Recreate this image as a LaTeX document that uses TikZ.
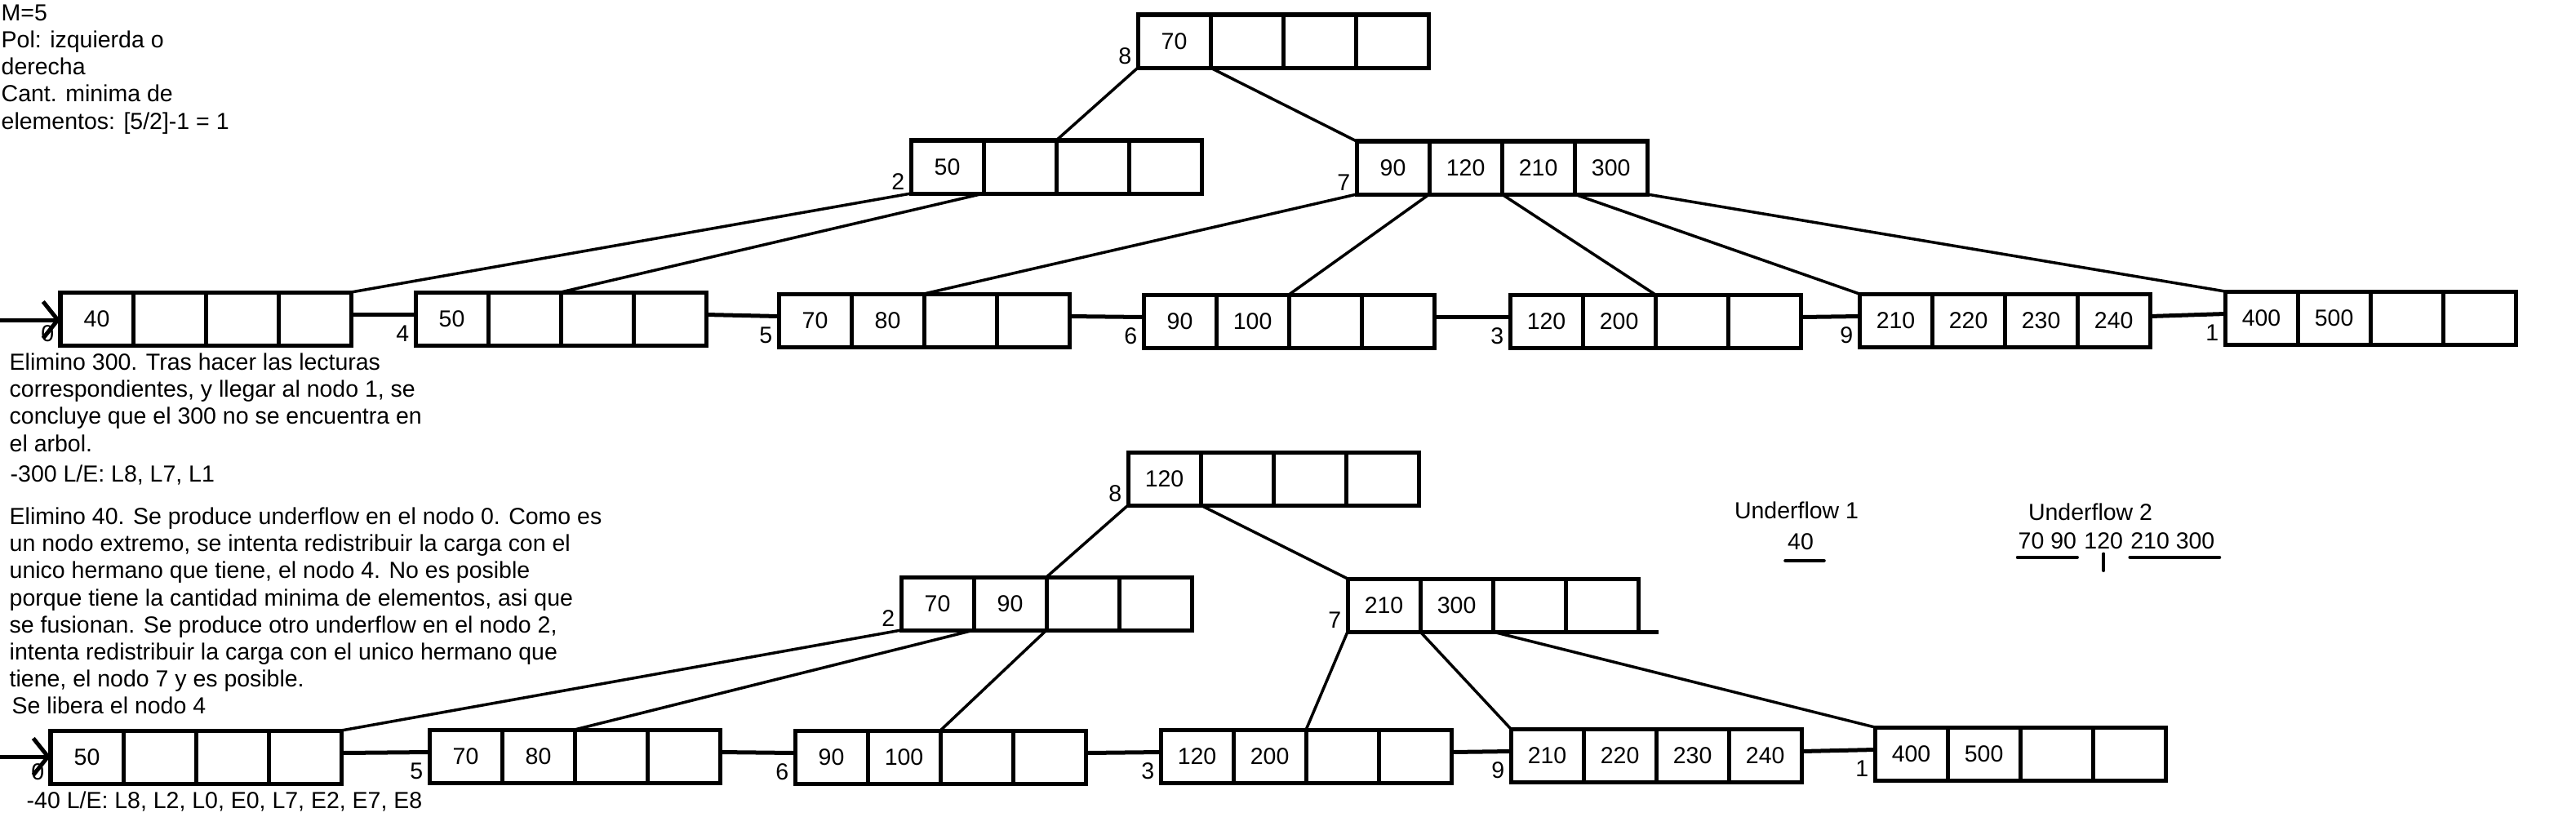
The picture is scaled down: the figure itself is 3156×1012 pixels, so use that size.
\documentclass[tikz,border=0pt]{standalone}
\usepackage{fontspec}
\setmainfont{Liberation Sans}
\usetikzlibrary{positioning, arrows.meta}

\begin{document}
\begin{tikzpicture}[x=0.01cm, y=-0.01cm, font=\fontsize{8.1}{9.45}\selectfont,
    celda/.style={draw=trazo, line width=0.05cm, minimum width=0.89cm, minimum height=0.65cm, inner sep=0pt, outer sep=0pt, anchor=north west},
    numero/.style={anchor=south east, inner sep=0pt, xshift=-0.07cm, yshift=0.04cm},
    arista/.style={draw=trazo, line width=0.035cm},
    enlace/.style={draw=trazo, line width=0.05cm},
    entrada/.style={enlace, -{Straight Barb[length=0.18cm, width=0.45cm]}},
    texto/.style={align=left, anchor=north west, inner sep=0pt},
    subrayado/.style={draw=trazo, line width=0.045cm, line cap=round}]
    % Define colours
    \definecolor{trazo}{HTML}{000000}

    % Macro for a node of the tree: name, number, position, four keys
    \def\nodoB#1#2#3#4#5#6#7{%
        \node[celda] (#1a) at #3 {#4};
        \node[celda, right=0pt of #1a] (#1b) {#5};
        \node[celda, right=0pt of #1b] (#1c) {#6};
        \node[celda, right=0pt of #1c] (#1d) {#7};
        \node[numero] (#1n) at (#1a.south west) {#2};
    }

  \useasboundingbox (0,0) rectangle (3156,1012);

  % Texts on the left
  \node[texto] (datos) at (1,5) {M=5\\Pol: izquierda o\\derecha\\Cant. minima de\\elementos: [5/2]-1 = 1};
  \node[texto] (paso1) at (11,432) {Elimino 300. Tras hacer las lecturas\\correspondientes, y llegar al nodo 1, se\\concluye que el 300 no se encuentra en\\el arbol.};
  \node[texto] (lect1) at (12,569) {-300 L/E: L8, L7, L1};
  \node[texto] (paso2) at (11,621) {Elimino 40. Se produce underflow en el nodo 0. Como es\\un nodo extremo, se intenta redistribuir la carga con el\\unico hermano que tiene, el nodo 4. No es posible\\porque tiene la cantidad minima de elementos, asi que\\se fusionan. Se produce otro underflow en el nodo 2,\\intenta redistribuir la carga con el unico hermano que\\tiene, el nodo 7 y es posible.\\\hspace*{0.03cm}Se libera el nodo 4};
  \node[texto] (lect2) at (32,969) {-40 L/E: L8, L2, L0, E0, L7, E2, E7, E8};

  % Tree before removing 40
  \nodoB{sup8}{8}{(1394,18)}{70}{}{}{}
  \nodoB{sup2}{2}{(1116,172)}{50}{}{}{}
  \nodoB{sup7}{7}{(1662,173)}{90}{120}{210}{300}
  \nodoB{sup0}{0}{(74,358)}{40}{}{}{}
  \nodoB{sup4}{4}{(509,358)}{50}{}{}{}
  \nodoB{sup5}{5}{(954,360)}{70}{80}{}{}
  \nodoB{sup6}{6}{(1401,361)}{90}{100}{}{}
  \nodoB{sup3}{3}{(1850,361)}{120}{200}{}{}
  \nodoB{sup9}{9}{(2278,360)}{210}{220}{230}{240}
  \nodoB{sup1}{1}{(2726,357)}{400}{500}{}{}

  % Tree after removing 40
  \nodoB{inf8}{8}{(1382,554)}{120}{}{}{}
  \nodoB{inf2}{2}{(1104,707)}{70}{90}{}{}
  \nodoB{inf7}{7}{(1651,709)}{210}{300}{}{}
  \nodoB{inf0}{0}{(62,895)}{50}{}{}{}
  \nodoB{inf5}{5}{(526,894)}{70}{80}{}{}
  \nodoB{inf6}{6}{(974,895)}{90}{100}{}{}
  \nodoB{inf3}{3}{(1422,894)}{120}{200}{}{}
  \nodoB{inf9}{9}{(1851,893)}{210}{220}{230}{240}
  \nodoB{inf1}{1}{(2297,891)}{400}{500}{}{}
  \draw[line width=0.05cm] (inf7d.south east) -- ++(25,0);

  % Parent to child pointers
  \foreach \padre/\hijo in {sup8a.south west/sup2c.north west, sup8b.south west/sup7a.north west,
      sup2a.south west/sup0d.north east, sup2b.south west/sup4c.north west,
      sup7a.south west/sup5c.north west, sup7b.south west/sup6c.north west,
      sup7c.south west/sup3c.north west, sup7d.south west/sup9a.north west,
      sup7d.south east/sup1a.north west,
      inf8a.south west/inf2c.north west, inf8b.south west/inf7a.north west,
      inf2a.south west/inf0d.north east, inf2b.south west/inf5c.north west,
      inf2c.south west/inf6c.north west, inf7a.south west/inf3c.north west,
      inf7b.south west/inf9a.north west, inf7c.south west/inf1a.north west}
    \draw[arista] (\padre) -- (\hijo);

  % Links between the leaves
  \foreach \izq/\der in {sup0/sup4, sup4/sup5, sup5/sup6, sup6/sup3, sup3/sup9, sup9/sup1,
      inf0/inf5, inf5/inf6, inf6/inf3, inf3/inf9, inf9/inf1}
    \draw[enlace] ([yshift=0.05cm]\izq d.east) -- ([yshift=0.05cm]\der a.west);

  % Entry arrows to the first leaf
  \coordinate (entSup) at (0,392);
  \draw[entrada] (entSup) -- (entSup -| sup0a.west);
  \coordinate (entInf) at (0,927);
  \draw[entrada] (entInf) -- (entInf -| inf0a.west);

  % Underflow notes
  \node (uf1) at (2201,625) {Underflow 1};
  \node[inner sep=0pt] (uf1val) at (2206,664) {40};
  \draw[subrayado] ([xshift=-0.02cm, yshift=-0.12cm]uf1val.south west) -- ([xshift=0.12cm, yshift=-0.12cm]uf1val.south east);

  \node (uf2) at (2561,627) {Underflow 2};
  \node[inner sep=0pt, anchor=west] (uf2izq) at (2472,663) {70 90};
  \node[inner sep=0pt, right=0.08cm of uf2izq] (uf2med) {120};
  \node[inner sep=0pt, right=0.08cm of uf2med] (uf2der) {210 300};
  \draw[subrayado] ([yshift=-0.09cm]uf2izq.south west) -- ([yshift=-0.09cm]uf2izq.south east);
  \draw[subrayado] ([yshift=-0.05cm]uf2med.south) -- ++(0,20);
  \draw[subrayado] ([yshift=-0.09cm]uf2der.south west) -- ([xshift=0.05cm, yshift=-0.09cm]uf2der.south east);

\end{tikzpicture}
\end{document}
